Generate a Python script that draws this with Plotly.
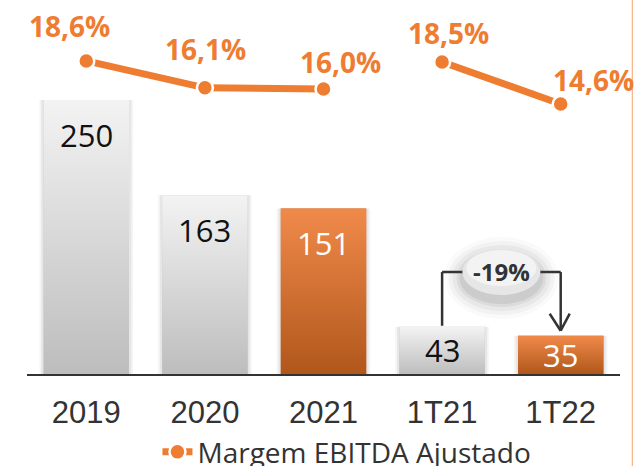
import plotly.graph_objects as go

# ---- data ----
categories = ["2019", "2020", "2021", "1T21", "1T22"]
ebitda = [250, 163, 151, 43, 35]
margin = [18.6, 16.1, 16.0, 18.5, 14.6]
margin_labels = ["18,6%", "16,1%", "16,0%", "18,5%", "14,6%"]
variation_label = "-19%"
legend_name = "Margem EBITDA Ajustado"

# ---- styles ----
ORANGE = "#EE7D31"
GRAY_TOP, GRAY_BOTTOM = "#F3F3F3", "#BDBDBD"
OR_TOP, OR_BOTTOM = "#F08A4A", "#B1571C"
highlight = [False, False, True, False, True]
bar_text_colors = ["#111111", "#111111", "#FFFFFF", "#111111", "#FFFFFF"]
bar_label_shift = [-35, -35, -35, -23, -19]
pct_shift_x = [-17, 1, 17, 6, 33]
pct_shift_y = [35, 39, 27, 29, 24]
BAR_W = 0.72

fig = go.Figure()

fig.add_trace(go.Bar(
    x=categories, y=ebitda,
    marker=dict(color=["#D46C2B" if h else "#D9D9D9" for h in highlight], line=dict(width=0)),
    width=BAR_W, showlegend=False, hoverinfo="skip",
))

# gradient skins for the bars (same geometry as the bars, on a linear twin x axis)
hw = BAR_W / 2
for i, v in enumerate(ebitda):
    top, bot = (OR_TOP, OR_BOTTOM) if highlight[i] else (GRAY_TOP, GRAY_BOTTOM)
    # soft shadow
    for grow, op in [(0.035, 0.04), (0.02, 0.06)]:
        fig.add_trace(go.Scatter(
            x=[i - hw - grow, i + hw + grow, i + hw + grow, i - hw - grow, i - hw - grow],
            y=[0, 0, v, v, 0], xaxis="x2", yaxis="y", mode="lines", fill="toself",
            fillcolor="rgba(0,0,0,%s)" % op, line=dict(width=0),
            showlegend=False, hoverinfo="skip",
        ))
    fig.add_trace(go.Scatter(
        x=[i - hw, i + hw, i + hw, i - hw, i - hw], y=[0, 0, v, v, 0],
        xaxis="x2", yaxis="y", mode="lines", fill="toself",
        fillgradient=dict(type="vertical", colorscale=[[0, bot], [1, top]]),
        line=dict(width=0), showlegend=False, hoverinfo="skip",
    ))

# margin line: two segments (annual and quarterly)
segments = [(0, 3), (3, 5)]
for k, (a, b) in enumerate(segments):
    fig.add_trace(go.Scatter(
        x=categories[a:b], y=margin[a:b], yaxis="y2",
        mode="lines+markers", name=legend_name, showlegend=(k == 0),
        line=dict(color=ORANGE, width=7),
        marker=dict(size=16, color=ORANGE, line=dict(color="white", width=2.5)),
        hoverinfo="skip",
    ))

annotations = []
for i, c in enumerate(categories):
    annotations.append(dict(
        x=i, y=ebitda[i], xref="x", yref="y", text=str(ebitda[i]),
        showarrow=False, yshift=bar_label_shift[i], yanchor="middle",
        font=dict(family="Open Sans", size=31, color=bar_text_colors[i]),
    ))
    annotations.append(dict(
        x=i, y=margin[i], xref="x", yref="y2", text="<b>%s</b>" % margin_labels[i],
        showarrow=False, xshift=pct_shift_x[i], yshift=pct_shift_y[i], yanchor="middle",
        font=dict(family="Open Sans", size=28, color=ORANGE),
    ))

# variation bracket between 1T21 and 1T22
i0, i1 = 3, 4
level = 93
shapes = [
    dict(type="line", xref="x", yref="y", x0=i0, x1=i0, y0=ebitda[i0] + 1, y1=level,
         line=dict(color="#333333", width=2.5)),
    dict(type="line", xref="x", yref="y", x0=i0, x1=i1, y0=level, y1=level,
         line=dict(color="#333333", width=2.5)),
    dict(type="line", xref="x", yref="y", x0=i1, x1=i1, y0=level, y1=ebitda[i1] + 4.5,
         line=dict(color="#333333", width=2.5)),
    dict(type="line", xref="x", yref="y", xsizemode="pixel", ysizemode="pixel",
         xanchor=i1, yanchor=ebitda[i1] + 4.5, x0=-11, x1=0, y0=17, y1=0,
         line=dict(color="#333333", width=2.5)),
    dict(type="line", xref="x", yref="y", xsizemode="pixel", ysizemode="pixel",
         xanchor=i1, yanchor=ebitda[i1] + 4.5, x0=0, x1=9, y0=0, y1=17,
         line=dict(color="#333333", width=2.5)),
]
# bubble shadow + bubble
for grow, op in [(18, 0.03), (14, 0.045), (10, 0.06), (6, 0.08), (3, 0.1)]:
    shapes.append(dict(type="circle", xref="x", yref="y", xsizemode="pixel", ysizemode="pixel",
                       xanchor=(i0 + i1) / 2, yanchor=level,
                       x0=-39 - grow, x1=39 + grow, y0=-23 - grow - 6, y1=23 + grow - 6,
                       fillcolor="rgba(80,80,80,%s)" % op, line=dict(width=0)))
shapes.append(dict(type="circle", xref="x", yref="y", xsizemode="pixel", ysizemode="pixel",
                   xanchor=(i0 + i1) / 2, yanchor=level, x0=-39, x1=39, y0=-23, y1=23,
                   fillcolor="#E6E6E6", line=dict(width=0)))
shapes.append(dict(type="circle", xref="x", yref="y", xsizemode="pixel", ysizemode="pixel",
                   xanchor=(i0 + i1) / 2, yanchor=level, x0=-35, x1=35, y0=-14, y1=22,
                   fillcolor="#F3F3F3", line=dict(width=0)))
# thin orange frame line at right
shapes.append(dict(type="line", xref="paper", yref="paper", x0=1.0207, x1=1.0207,
                   y0=-0.25, y1=1.0, line=dict(color="#F4A468", width=1)))

annotations.append(dict(
    x=(i0 + i1) / 2, y=level, xref="x", yref="y", text="<b>%s</b>" % variation_label,
    showarrow=False, yanchor="middle", yshift=1,
    font=dict(family="Open Sans", size=24, color="#333333"),
))

fig.update_layout(
    width=639, height=466,
    margin=dict(l=27, r=19, t=0, b=92, autoexpand=False),
    paper_bgcolor="white", plot_bgcolor="white",
    xaxis=dict(type="category", range=[-0.5, 4.5], showgrid=False, zeroline=False,
               showline=True, linecolor="#333333", linewidth=2, ticks="",
               ticklabelstandoff=10,
               tickfont=dict(family="Liberation Sans", size=31, color="#333333")),
    xaxis2=dict(type="linear", range=[-0.5, 4.5], overlaying="x", visible=False,
                showgrid=False, zeroline=False),
    yaxis=dict(range=[0, 341.2], visible=False, showgrid=False, zeroline=False),
    yaxis2=dict(range=[-10.52, 24.27], overlaying="y", visible=False, showgrid=False,
                zeroline=False),
    legend=dict(orientation="h", x=0.22, xanchor="left", y=-0.209, yanchor="middle",
                font=dict(family="Open Sans", size=28, color="#333333"),
                bgcolor="rgba(0,0,0,0)", itemwidth=30),
    shapes=shapes, annotations=annotations,
    showlegend=True,
)

fig.write_html("out.html", config={"displayModeBar": False},
               post_script="document.body.style.margin='0';")
